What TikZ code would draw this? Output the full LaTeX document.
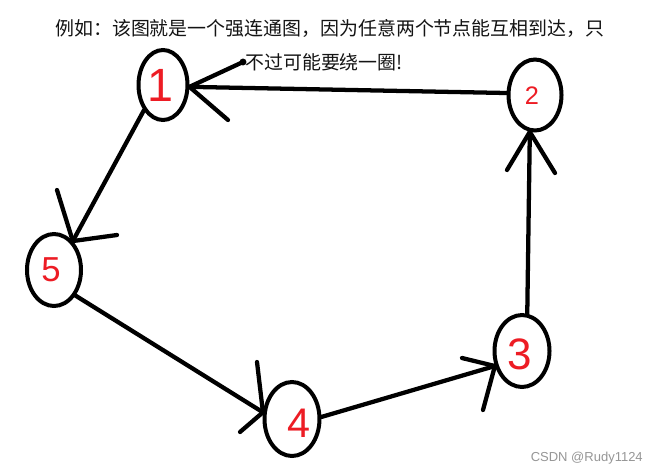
\documentclass[tikz,border=0pt]{standalone}
\usepackage{fontspec}
\setmainfont{Noto Sans CJK SC}
\newfontfamily\digitfont{Liberation Sans}
\newfontfamily\wmfont{Liberation Sans}
\usetikzlibrary{shapes.geometric}
\definecolor{numred}{RGB}{237,28,36}
\definecolor{txtblack}{RGB}{20,20,20}
\definecolor{wmgray}{RGB}{150,150,150}
\begin{document}
\begin{tikzpicture}[x=0.75pt,y=-0.75pt,
  circ/.style={draw, ellipse, line width=3pt, inner sep=0pt},
  edgeline/.style={line width=3.2pt, line cap=round, line join=round},
  num/.style={text=numred, font=\digitfont, inner sep=0pt},
  caption/.style={text=txtblack, inner sep=0pt, anchor=west, font=\fontsize{14.2pt}{16pt}\selectfont},
]
\useasboundingbox[fill=white] (0,0) rectangle (659,475);

% nodes
\node[circ, minimum width=36.75pt, minimum height=52.5pt] (n1) at (163,85) {};
\node[circ, minimum width=39.75pt, minimum height=53.25pt] (n2) at (535,95) {};
\node[circ, minimum width=40.5pt, minimum height=54pt] (n5) at (54,270) {};
\node[circ, minimum width=41.25pt, minimum height=55.5pt] (n4) at (292,419) {};
\node[circ, minimum width=41.25pt, minimum height=54pt] (n3) at (522,351) {};

% digits
\node[num, font=\digitfont\fontsize{35pt}{35pt}\selectfont] (d1) at (160,85) {1};
\node[num, font=\digitfont\fontsize{19pt}{19pt}\selectfont] (d2) at (532,96) {2};
\node[num, font=\digitfont\fontsize{26pt}{26pt}\selectfont] (d5) at (51,270) {5};
\node[num, font=\digitfont\fontsize{31pt}{31pt}\selectfont] (d4) at (299,423) {4};
\node[num, font=\digitfont\fontsize{33pt}{33pt}\selectfont] (d3) at (520,354) {3};

% barb end points
\coordinate (b1a) at (243,62);
\coordinate (b1b) at (228,120);
\coordinate (b5a) at (57,190);
\coordinate (b5b) at (117,235);
\coordinate (b4a) at (257,362);
\coordinate (b4b) at (240,432);
\coordinate (b3a) at (462,358);
\coordinate (b3b) at (483,410);
\coordinate (b2a) at (507,170);
\coordinate (b2b) at (555,173);

% connectors
\draw[edgeline] (n2.176) -- (n1.-4);
\draw[edgeline] (b1a) -- (n1.-4) -- (b1b);
\fill (b1a) circle (2.6pt);

\draw[edgeline] (n1.233) -- (n5.57);
\draw[edgeline] (b5a) -- (n5.57) -- (b5b);

\draw[edgeline] (n5.-50) -- (n4.167);
\draw[edgeline] (b4a) -- (n4.167) -- (b4b);

\draw[edgeline] (n4.4) -- (n3.209);
\draw[edgeline] (b3a) -- (n3.209) -- (b3b);

\draw[edgeline] (n3.82) -- (n2.262);
\draw[edgeline] (b2a) -- (n2.262) -- (b2b);

% texts
\node[caption] (t1) at (55,28) {例如：该图就是一个强连通图，因为任意两个节点能互相到达，只};
\node[caption] (t2) at (245,62) {不过可能要绕一圈!};
\node[text=wmgray, inner sep=0pt, anchor=east, font=\wmfont\fontsize{9.75pt}{11pt}\selectfont] (wm) at (643,458) {CSDN @Rudy1124};
\end{tikzpicture}
\end{document}
